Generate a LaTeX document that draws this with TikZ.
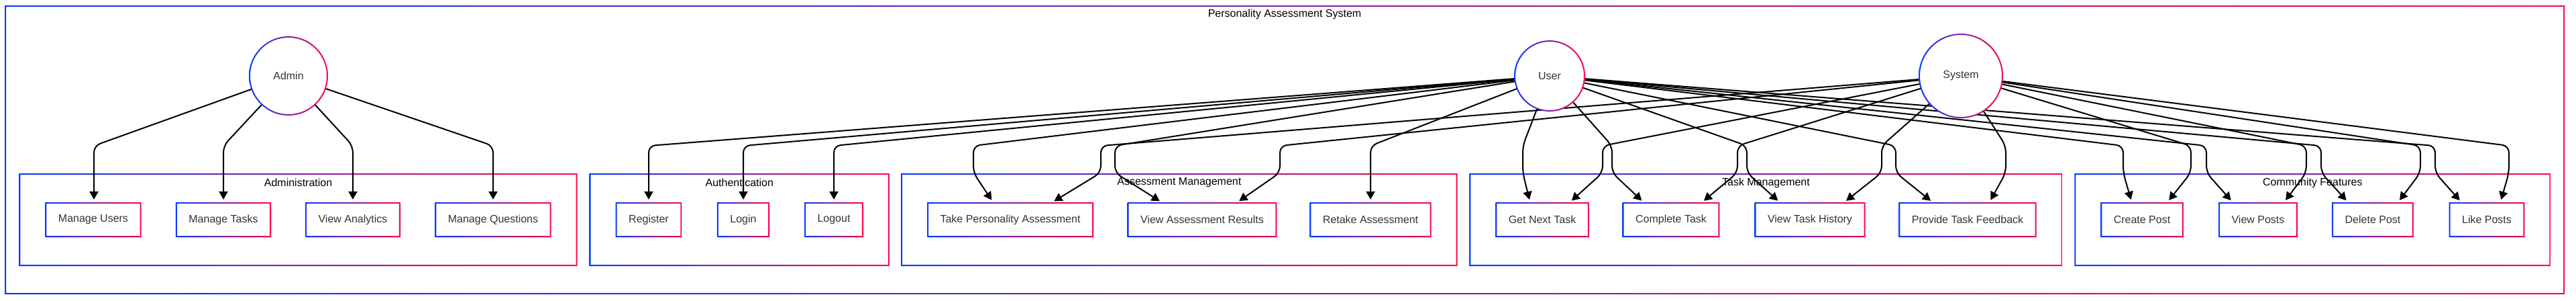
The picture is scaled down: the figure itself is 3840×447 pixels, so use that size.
\documentclass[tikz,border=0pt]{standalone}
\usepackage{fontspec}
\setmainfont{Liberation Sans}
\usetikzlibrary{arrows.meta,backgrounds,calc,fit,shadows}

\definecolor{gradblue}{HTML}{0A3CFF}
\definecolor{gradred}{HTML}{FF0A4B}
\definecolor{txtgray}{HTML}{333333}

\tikzset{
  actor/.style={circle, fill=white, text=txtgray, inner sep=0pt, outer sep=0pt},
  usecase/.style={rectangle, fill=white, text=txtgray, minimum height=25pt,
    inner xsep=9.25pt, outer sep=0pt,
    drop shadow={shadow xshift=.8pt, shadow yshift=-.8pt, fill=black, opacity=.12}},
  cluster/.style={rectangle, fill=white, inner xsep=19.5pt, inner ysep=21.5pt, outer sep=0pt},
  clustertitle/.style={text=black, inner sep=0pt},
  flow/.style={line width=1pt, rounded corners=5pt,
    -{Triangle[length=6pt,width=6.5pt]}, shorten >=2.5pt},
}

% gradient border round a rectangle node
\newcommand{\gradring}[1]{%
  \shade[left color=gradblue, right color=gradred, even odd rule]
    ($(#1.south west)+(-1,1)$) rectangle ($(#1.north east)+(1,-1)$)
    ($(#1.south west)+(1,-1)$) rectangle ($(#1.north east)+(-1,1)$);}
% gradient border round a circle node
\newcommand{\gradcircle}[2]{%
  \shade[left color=gradblue, right color=gradred, even odd rule]
    (#1.center) circle[radius=#2pt+0.5pt] (#1.center) circle[radius=#2pt-0.5pt];}

\begin{document}
\begin{tikzpicture}[x=0.5pt, y=-0.5pt, font=\fontsize{8}{10}\selectfont]
\useasboundingbox (0,0) rectangle (3840,447);

% actors
\node[actor, minimum size=58pt] (admin) at (430,113) {Admin};
\node[actor, minimum size=52pt] (user) at (2310,113) {User};
\node[actor, minimum size=62pt] (system) at (2923,113) {System};

% administration
\node[usecase] (musers) at (139,327) {Manage Users};
\node[usecase] (mtasks) at (333,327) {Manage Tasks};
\node[usecase] (vanalytics) at (526,327) {View Analytics};
\node[usecase] (mquestions) at (735,327) {Manage Questions};
% authentication
\node[usecase] (register) at (967,327) {Register};
\node[usecase] (login) at (1108,327) {Login};
\node[usecase] (logout) at (1243,327) {Logout};
% assessment management
\node[usecase] (takeassess) at (1506,327) {Take Personality Assessment};
\node[usecase] (viewresults) at (1792,327) {View Assessment Results};
\node[usecase] (retake) at (2043,327) {Retake Assessment};
% task management
\node[usecase] (nexttask) at (2299,327) {Get Next Task};
\node[usecase] (completetask) at (2491,327) {Complete Task};
\node[usecase] (taskhistory) at (2698,327) {View Task History};
\node[usecase] (taskfeedback) at (2933,327) {Provide Task Feedback};
% community features
\node[usecase] (createpost) at (3193,327) {Create Post};
\node[usecase] (viewposts) at (3366,327) {View Posts};
\node[usecase] (deletepost) at (3537,327) {Delete Post};
\node[usecase] (likeposts) at (3707,327) {Like Posts};

\foreach \n in {musers,mtasks,vanalytics,mquestions,register,login,logout,
  takeassess,viewresults,retake,nexttask,completetask,taskhistory,taskfeedback,
  createpost,viewposts,deletepost,likeposts}
  \gradring{\n};
\gradcircle{admin}{29}
\gradcircle{user}{26}
\gradcircle{system}{31}

\begin{scope}[on background layer]
\node[cluster, minimum width=1907pt, minimum height=214pt, inner sep=0pt] (pas) at (1915,223) {};
\gradring{pas}
\node[clustertitle] (pastitle) at ($(pas.north)+(0,12)$) {Personality Assessment System};

\node[cluster, fit=(musers)(mquestions)] (adminbox) {};
\node[cluster, fit=(register)(logout)] (authbox) {};
\node[cluster, fit=(takeassess)(retake)] (assessbox) {};
\node[cluster, fit=(nexttask)(taskfeedback)] (taskbox) {};
\node[cluster, fit=(createpost)(likeposts)] (commbox) {};
\foreach \c/\t in {adminbox/Administration,authbox/Authentication,
  assessbox/Assessment Management,taskbox/Task Management,commbox/Community Features}{
  \gradring{\c}
  \node[clustertitle] (\c title) at ($(\c.north)+(0,13)$) {\t};
}

% connectors
\foreach \src/\dst/\xa/\xe in {
  admin/musers/140/140, admin/mtasks/333/333, admin/vanalytics/526/526,
  admin/mquestions/735/735,
  user/register/967/967, user/login/1108/1108, user/logout/1243/1243,
  user/takeassess/1451/1481, system/takeassess/1641/1567,
  user/viewresults/1662/1733, system/viewresults/1908/1843,
  user/retake/2043/2043,
  user/nexttask/2270/2281, system/nexttask/2389/2339,
  user/completetask/2403/2451, system/completetask/2590/2536,
  user/taskhistory/2604/2654, system/taskhistory/2805/2748,
  user/taskfeedback/2826/2882, system/taskfeedback/2990/2965,
  user/createpost/3165/3178, system/createpost/3266/3230,
  user/viewposts/3289/3329, system/viewposts/3438/3404,
  user/deletepost/3460/3501, system/deletepost/3608/3574,
  user/likeposts/3630/3670, system/likeposts/3740/3727}
  \draw[flow] (\src) -- (\xa,217) -- (\xa,257) -- (\xe,0 |- \dst.north);
\end{scope}
\end{tikzpicture}
\end{document}
